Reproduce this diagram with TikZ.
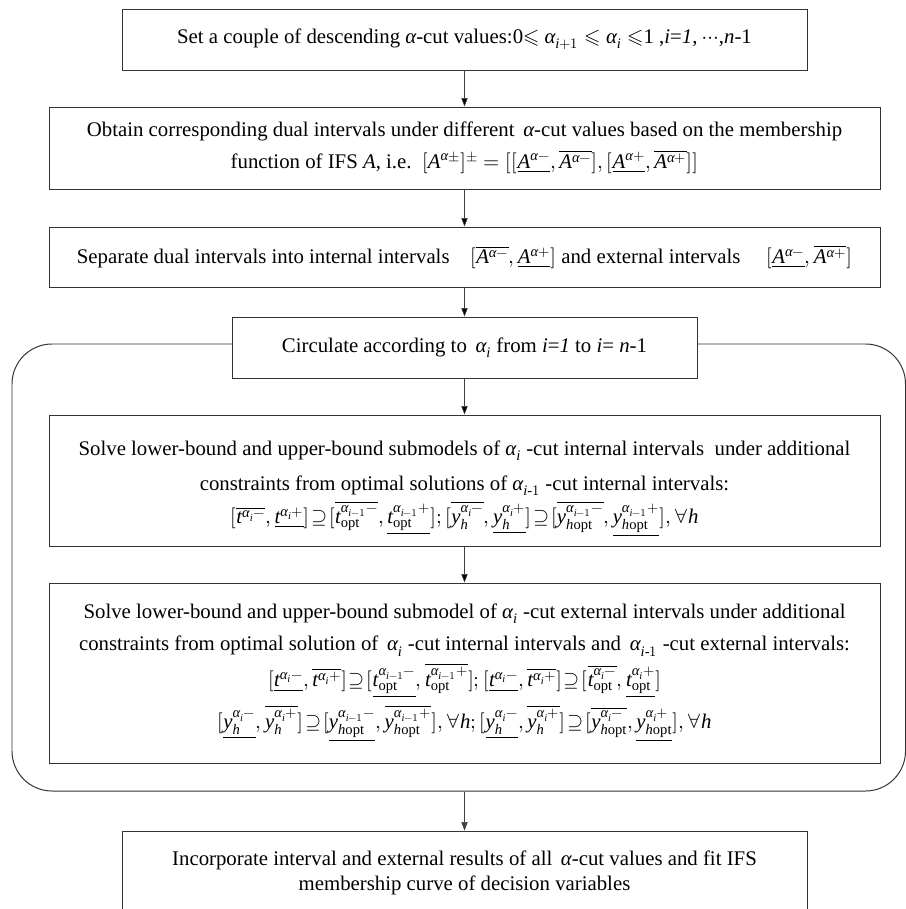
\documentclass[tikz,border=0pt]{standalone}
\usepackage{amsmath}
\usepackage{unicode-math}
\setmainfont{Liberation Serif}
\setmathfont{Latin Modern Math}
\setmathfont{Liberation Serif Italic}[range=it->up]
\usetikzlibrary{arrows.meta}
\newcommand{\tightrel}{\thickmuskip=1.5mu\relax}

\begin{document}
\begin{tikzpicture}[
	box/.style={draw=black!80, line width=0.7pt, fill=white, align=center, inner sep=0pt,
		font=\fontsize{14.8}{18}\selectfont},
	flow/.style={-{Triangle[length=6pt,width=4.5pt]}, draw=black!75, line width=0.4pt}]
	\useasboundingbox (0,0) rectangle (22.625,-22.725);

	% loop frame behind the inner steps
	\node (L) [draw=black!80, line width=0.7pt, rounded corners=1cm, minimum width=22.3375cm, minimum height=11.175cm] at (11.46875,-14.1875) {};

	\node (A) [box, minimum width=17.125cm, minimum height=1.525cm] at (11.6125,-0.9875)
		{Set a couple of descending $\alpha$-cut values:0$\leqslant$ $\alpha_{i+1}\leqslant$ $\alpha_i\leqslant$1 ,$i$=\textit{1}, $\cdots$,$n$-1};
	\node (B) [box, minimum width=20.775cm, minimum height=2.05cm] at (11.6125,-3.7)
		{Obtain corresponding dual intervals under different\, $\alpha$-cut values based on the membership\\[4.5pt]
		function of IFS $A$, i.e.\ \ $[A^{\alpha\pm}]^{\pm}=[[\underline{A^{\alpha-}},\overline{A^{\alpha-}}],[\underline{A^{\alpha+}},\overline{A^{\alpha+}}]]$};
	\node (C) [box, minimum width=20.775cm, minimum height=1.5cm] at (11.6125,-6.425)
		{Separate dual intervals into internal intervals\quad $[\overline{A^{\alpha-}},\underline{A^{\alpha+}}]$ and external intervals\quad\ $[\underline{A^{\alpha-}},\overline{A^{\alpha+}}]$};
	\node (D) [box, minimum width=11.625cm, minimum height=1.525cm] at (11.6125,-8.6875)
		{Circulate according to\, $\alpha_i$ from $i$=\textit{1} to $i$= $n$-1};
	\node (E) [box, minimum width=20.775cm, minimum height=3.275cm] at (11.6125,-12.0125)
		{\rule{0pt}{22pt}Solve lower-bound and upper-bound submodels of $\alpha_i$ -cut internal intervals\ \ under additional\\[7.5pt]
		constraints from optimal solutions of $\alpha_{i\text{-}1}$ -cut internal intervals:\\[3pt]
		$\tightrel[\overline{t^{\alpha_i-}},\underline{t^{\alpha_i+}}]\supseteq[\overline{t_{\mathrm{opt}}^{\alpha_{i-1}-}},\underline{t_{\mathrm{opt}}^{\alpha_{i-1}+}}];[\overline{y_h^{\alpha_i-}},\underline{y_h^{\alpha_i+}}]\supseteq[\overline{y_{h\mathrm{opt}}^{\alpha_{i-1}-}},\underline{y_{h\mathrm{opt}}^{\alpha_{i-1}+}}],\forall h$};
	\node (F) [box, minimum width=20.775cm, minimum height=4.5cm] at (11.6125,-16.825)
		{Solve lower-bound and upper-bound submodel of $\alpha_i$ -cut external intervals under additional\\[5pt]
		constraints from optimal solution of\, $\alpha_i$ -cut internal intervals and\, $\alpha_{i\text{-}1}$ -cut external intervals:\\[4pt]
		$\tightrel[\underline{t^{\alpha_i-}},\overline{t^{\alpha_i+}}]\supseteq[\underline{t_{\mathrm{opt}}^{\alpha_{i-1}-}},\overline{t_{\mathrm{opt}}^{\alpha_{i-1}+}}];[\underline{t^{\alpha_i-}},\overline{t^{\alpha_i+}}]\supseteq[\overline{t_{\mathrm{opt}}^{\alpha_i-}},\underline{t_{\mathrm{opt}}^{\alpha_i+}}]$\\[4pt]
		$\tightrel[\underline{y_h^{\alpha_i-}},\overline{y_h^{\alpha_i+}}]\supseteq[\underline{y_{h\mathrm{opt}}^{\alpha_{i-1}-}},\overline{y_{h\mathrm{opt}}^{\alpha_{i-1}+}}],\forall h;[\underline{y_h^{\alpha_i-}},\overline{y_h^{\alpha_i+}}]\supseteq[\overline{y_{h\mathrm{opt}}^{\alpha_i-}},\underline{y_{h\mathrm{opt}}^{\alpha_i+}}],\forall h$};
	\node (G) [box, minimum width=17.125cm, minimum height=2.1cm] at (11.6125,-21.825)
		{Incorporate interval and external results of all\, $\alpha$-cut values and fit IFS\\
		membership curve of decision variables};

	\coordinate (H) at (L.south -| G.north);

	\path [flow] (A) edge (B);
	\path [flow] (B) edge (C);
	\path [flow] (C) edge (D);
	\path [flow] (D) edge (E);
	\path [flow] (E) edge (F);
	\draw [flow] (H) -- (G);
\end{tikzpicture}
\end{document}
